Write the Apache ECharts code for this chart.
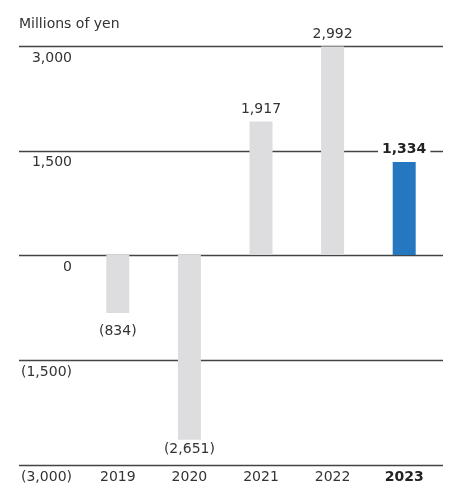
<!DOCTYPE html>
<html>
<head>
<meta charset="utf-8">
<script src="https://cdn.jsdelivr.net/npm/echarts@6/dist/echarts.min.js"></script>
<style>
html,body{margin:0;padding:0;background:#fff;}
#c{width:450px;height:484px;}
</style>
</head>
<body>
<div id="c"></div>
<script>
var categories = ['2019', '2020', '2021', '2022', '2023'];
var values = [-834, -2651, 1917, 2992, 1334];
var highlightIndex = 4;
var yTicks = [-3000, -1500, 0, 1500, 3000];
var unitLabel = 'Millions of yen';

var FONT = '"DejaVu Sans", Verdana, sans-serif';
function fmt(v) {
  var s = Math.abs(v).toString().replace(/\B(?=(\d{3})+(?!\d))/g, ',');
  return v < 0 ? '(' + s + ')' : s;
}

var chart = echarts.init(document.getElementById('c'), null, {renderer: 'canvas'});

var data = values.map(function (v, i) {
  var hi = i === highlightIndex;
  return {
    value: v,
    itemStyle: {color: hi ? '#2577c0' : '#dddde0'},
    label: {
      position: v < 0 ? 'bottom' : 'top',
      distance: v < 0 ? (v < -2000 ? 3 : 11) : 5,
      fontWeight: hi ? 'bold' : 'normal',
      color: hi ? '#222' : '#333',
      backgroundColor: hi ? '#fff' : 'transparent',
      padding: hi ? [1, 4, 1, 4] : 0
    }
  };
});

chart.setOption({
  animation: false,
  title: {
    text: unitLabel,
    left: 14, top: 12,
    textStyle: {fontFamily: FONT, fontSize: 14, fontWeight: 'normal', color: '#333'}
  },
  grid: [
    {left: 19, right: 7, top: 46, bottom: 18},
    {left: 82, right: 10, top: 46, bottom: 18}
  ],
  xAxis: [
    {gridIndex: 0, type: 'category', data: categories, show: false},
    {
      gridIndex: 1, type: 'category', data: categories,
      axisLine: {show: false}, axisTick: {show: false},
      axisLabel: {
        interval: 0, margin: 6, fontFamily: FONT, fontSize: 14, color: '#333',
        formatter: function (v, i) { return i === highlightIndex ? '{b|' + v + '}' : v; },
        rich: {b: {fontFamily: FONT, fontSize: 14, fontWeight: 'bold', color: '#222'}}
      }
    }
  ],
  yAxis: [
    {
      gridIndex: 0, type: 'value', min: yTicks[0], max: yTicks[yTicks.length - 1], interval: 1500,
      axisLine: {show: false}, axisTick: {show: false},
      splitLine: {show: true, lineStyle: {color: '#444', width: 1.3}},
      axisLabel: {
        inside: true, margin: 53, align: 'right', verticalAlign: 'top',
        padding: [5, 0, 0, 0],
        fontFamily: FONT, fontSize: 14, color: '#333',
        formatter: function (v) { return fmt(v); }
      }
    },
    {
      gridIndex: 1, type: 'value', min: yTicks[0], max: yTicks[yTicks.length - 1], interval: 1500,
      show: false, splitLine: {show: false}
    }
  ],
  series: [{
    type: 'bar',
    xAxisIndex: 1, yAxisIndex: 1,
    data: data,
    barWidth: 23,
    label: {
      show: true,
      fontFamily: FONT, fontSize: 14,
      formatter: function (p) { return fmt(p.value); }
    }
  }]
});
</script>
</body>
</html>
